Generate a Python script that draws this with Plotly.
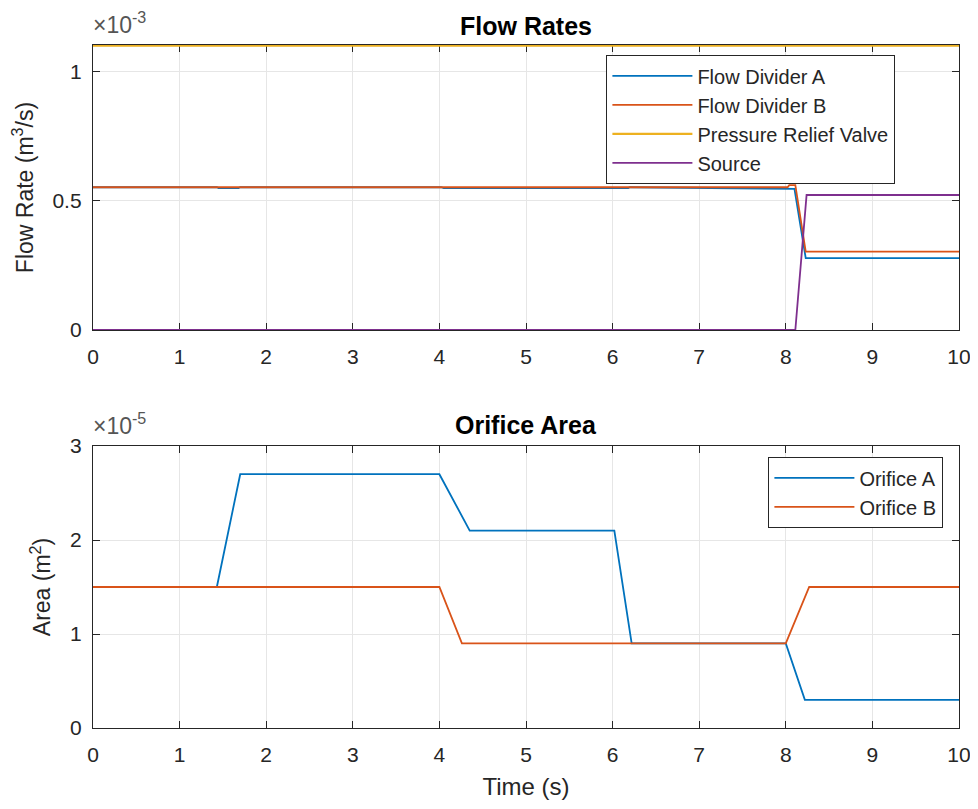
import plotly.graph_objects as go

# ---------------- data ----------------
# Top plot: flow rates (m^3/s)
t_fda = [0, 1.43, 1.45, 1.68, 1.70, 4.02, 4.05, 6.18, 6.2, 8.02, 8.10, 8.23, 10]
q_fda = [0.552e-3, 0.552e-3, 0.5485e-3, 0.5485e-3, 0.552e-3, 0.552e-3, 0.5485e-3, 0.5485e-3, 0.552e-3,
         0.546e-3, 0.546e-3, 0.278e-3, 0.278e-3]
t_fdb = [0, 8.02, 8.04, 8.11, 8.23, 10]
q_fdb = [0.552e-3, 0.552e-3, 0.560e-3, 0.560e-3, 0.303e-3, 0.303e-3]
t_prv = [0, 10]
q_prv = [1.1e-3, 1.1e-3]
t_src = [0, 8.11, 8.24, 10]
q_src = [0.0, 0.0, 0.522e-3, 0.522e-3]

# Bottom plot: orifice areas (m^2)
t_ora = [0, 1.43, 1.70, 4.0, 4.35, 6.02, 6.22, 8.0, 8.22, 10]
a_ora = [1.5e-5, 1.5e-5, 2.7e-5, 2.7e-5, 2.1e-5, 2.1e-5, 0.9e-5, 0.9e-5, 0.3e-5, 0.3e-5]
t_orb = [0, 4.0, 4.26, 8.0, 8.27, 10]
a_orb = [1.5e-5, 1.5e-5, 0.9e-5, 0.9e-5, 1.5e-5, 1.5e-5]

x_ticks = [0, 1, 2, 3, 4, 5, 6, 7, 8, 9, 10]
y1_tickvals = [0, 0.5e-3, 1e-3]
y1_ticktext = ["0", "0.5", "1"]
y2_tickvals = [0, 1e-5, 2e-5, 3e-5]
y2_ticktext = ["0", "1", "2", "3"]

# ---------------- style ----------------
C_BLUE = "#0072BD"
C_ORANGE = "#D95319"
C_YELLOW = "#EDB120"
C_PURPLE = "#7E2F8E"
AX = "#262626"
GRID = "#e6e6e6"
FONT = "Liberation Sans, Arial, sans-serif"
LW = 1.8

# page body has an 8px margin; positions below are measured in window pixels
OFF = 8
W, H = 978 - OFF, 809 - OFF
def px_x(x): return (x - OFF) / W
def px_y(y): return 1 - (y - OFF) / H

fig = go.Figure()
fig.add_trace(go.Scatter(x=t_fda, y=q_fda, mode="lines", name="Flow Divider A",
                         line=dict(color=C_BLUE, width=LW), xaxis="x", yaxis="y", legend="legend"))
fig.add_trace(go.Scatter(x=t_fdb, y=q_fdb, mode="lines", name="Flow Divider B",
                         line=dict(color=C_ORANGE, width=LW), xaxis="x", yaxis="y", legend="legend"))
fig.add_trace(go.Scatter(x=t_prv, y=q_prv, mode="lines", name="Pressure Relief Valve",
                         line=dict(color=C_YELLOW, width=2.4), xaxis="x", yaxis="y", legend="legend"))
fig.add_trace(go.Scatter(x=t_src, y=q_src, mode="lines", name="Source",
                         line=dict(color=C_PURPLE, width=LW), xaxis="x", yaxis="y", legend="legend"))
fig.add_trace(go.Scatter(x=t_ora, y=a_ora, mode="lines", name="Orifice A",
                         line=dict(color=C_BLUE, width=LW), xaxis="x2", yaxis="y2", legend="legend2"))
fig.add_trace(go.Scatter(x=t_orb, y=a_orb, mode="lines", name="Orifice B",
                         line=dict(color=C_ORANGE, width=LW), xaxis="x2", yaxis="y2", legend="legend2"))

x_left, x_right = 93, 959
top_t, top_b = 45, 330
bot_t, bot_b = 446, 728

axis_common = dict(
    showline=True, linecolor=AX, linewidth=1.4, mirror="ticks",
    ticks="inside", ticklen=7, tickwidth=1.2, tickcolor=AX,
    showgrid=True, gridcolor=GRID, gridwidth=1, zeroline=False,
    tickfont=dict(family=FONT, size=21, color=AX), automargin=False,
    layer="below traces",
)

fig.update_layout(
    width=W, height=H,
    margin=dict(l=0, r=0, t=0, b=0),
    paper_bgcolor="white", plot_bgcolor="white",
    font=dict(family=FONT, color=AX),
    xaxis=dict(domain=[px_x(x_left), px_x(x_right)], range=[0, 10], tickvals=x_ticks,
               anchor="y", ticklabelstandoff=8, **axis_common),
    yaxis=dict(domain=[px_y(top_b), px_y(top_t)], range=[0, 1.102e-3], tickvals=y1_tickvals,
               ticktext=y1_ticktext, anchor="x", ticklabelstandoff=6,
               title=dict(text="Flow Rate (m<sup>3</sup>/s)", font=dict(family=FONT, size=23, color=AX), standoff=12),
               **axis_common),
    xaxis2=dict(domain=[px_x(x_left), px_x(x_right)], range=[0, 10], tickvals=x_ticks,
                anchor="y2", ticklabelstandoff=8,
                title=dict(text="Time (s)", font=dict(family=FONT, size=24, color=AX), standoff=12),
                **axis_common),
    yaxis2=dict(domain=[px_y(bot_b), px_y(bot_t)], range=[0, 3e-5], tickvals=y2_tickvals,
                ticktext=y2_ticktext, anchor="x2", ticklabelstandoff=6,
                title=dict(text="Area (m<sup>2</sup>)", font=dict(family=FONT, size=23, color=AX), standoff=12),
                **axis_common),
    legend=dict(x=px_x(895), y=px_y(55), xanchor="right", yanchor="top",
                bgcolor="white", bordercolor=AX, borderwidth=1.4,
                font=dict(family=FONT, size=20, color=AX), itemwidth=80, tracegroupgap=0),
    legend2=dict(x=px_x(943), y=px_y(457), xanchor="right", yanchor="top",
                 bgcolor="white", bordercolor=AX, borderwidth=1.4,
                 font=dict(family=FONT, size=20, color=AX), itemwidth=80, tracegroupgap=0),
    showlegend=True,
)

annotations = [
    dict(text="<b>Flow Rates</b>", x=(px_x(x_left) + px_x(x_right)) / 2, y=px_y(42),
         xref="paper", yref="paper", xanchor="center", yanchor="bottom", showarrow=False,
         font=dict(family=FONT, size=25, color="#000000")),
    dict(text="<b>Orifice Area</b>", x=(px_x(x_left) + px_x(x_right)) / 2, y=px_y(441),
         xref="paper", yref="paper", xanchor="center", yanchor="bottom", showarrow=False,
         font=dict(family=FONT, size=25, color="#000000")),
    dict(text="×10<sup>-3</sup>", x=px_x(91), y=px_y(40), xref="paper", yref="paper",
         xanchor="left", yanchor="bottom", showarrow=False,
         font=dict(family=FONT, size=23, color="#555555")),
    dict(text="×10<sup>-5</sup>", x=px_x(91), y=px_y(441), xref="paper", yref="paper",
         xanchor="left", yanchor="bottom", showarrow=False,
         font=dict(family=FONT, size=23, color="#555555")),
]
fig.update_layout(annotations=annotations)

fig.write_html("out.html")
